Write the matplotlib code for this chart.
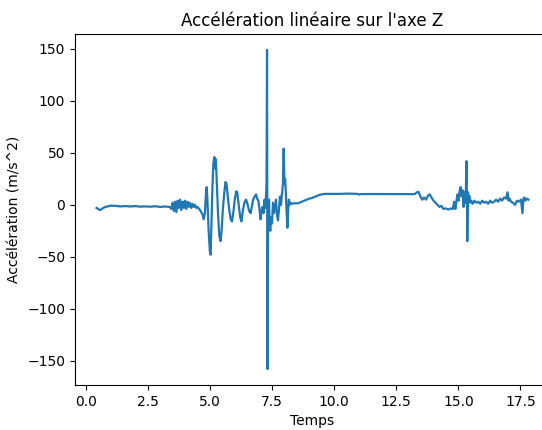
import matplotlib
matplotlib.use("Agg")
import matplotlib.pyplot as plt

# (time, acceleration) samples, by segment
calm = [(0.44,-3),(0.5,-4),(0.56,-5),(0.62,-4.5),(0.7,-3),(0.8,-2),(0.9,-1.5),(1.0,-0.8),(1.2,-1),
        (1.4,-1.5),(1.6,-1.2),(1.8,-1.6),(2.0,-1.2),(2.2,-1.8),(2.4,-1.5),(2.6,-1.8),(2.8,-1.4),
        (3.0,-2),(3.2,-1.6),(3.4,-2.2)]
noise1 = [(3.45,-4),(3.5,2),(3.55,-6),(3.6,3),(3.65,-7),(3.7,4),(3.75,-3),(3.8,5),(3.85,-5),(3.9,3),
          (3.95,-3),(4.0,4),(4.05,-4),(4.1,3),(4.15,-2),(4.2,2),(4.25,-3),(4.3,1),(4.35,-2),(4.4,0),
          (4.45,-3),(4.5,-2),(4.6,-5),(4.7,-9),(4.75,-14)]
oscill = [(4.8,-8),(4.84,10),(4.87,17),(4.9,5),(4.95,-25),(5.0,-45),(5.03,-48),(5.06,-20),(5.1,15),
          (5.14,40),(5.18,46),(5.21,35),(5.24,44),(5.28,20),(5.33,-10),(5.38,-30),(5.43,-35),(5.47,-25),
          (5.52,-5),(5.58,12),(5.63,22),(5.67,20),(5.72,8),(5.78,-5),(5.84,-14),(5.89,-16),(5.94,-8),
          (6.0,5),(6.06,13),(6.1,12),(6.16,0),(6.22,-12),(6.27,-16),(6.33,-5),(6.4,3),(6.46,5),(6.52,0),
          (6.58,-6),(6.64,-8),(6.68,-3),(6.74,5),(6.8,8),(6.86,10),(6.9,6),(6.95,4),(7.0,-5),(7.04,-14),
          (7.08,-6),(7.12,-2),(7.16,-8),(7.2,5),(7.24,-3)]
impact = [(7.28,20),(7.3,149),(7.32,-158),(7.34,-10),(7.36,-20),(7.38,5),(7.4,-15),(7.43,-25),(7.46,-12),
          (7.5,-18),(7.54,2),(7.58,-8),(7.62,-3),(7.66,5),(7.7,-10),(7.74,-15),(7.78,-5),(7.82,8),(7.86,0),
          (7.9,10),(7.94,20),(7.97,54),(8.0,20),(8.03,25),(8.06,10),(8.09,-8),(8.12,-22),(8.15,-5),
          (8.18,5),(8.21,0),(8.25,2)]
plateau = [(8.3,1),(8.4,1.5),(8.55,1.5),(8.7,3),(8.85,4.5),(9.0,6),(9.1,6.5),(9.25,8),(9.4,9.5),
           (9.6,10.5),(9.8,10.5),(10.2,10.5),(10.6,10.8),(10.95,10.5),(11.0,9.8),(11.05,10.3),(11.4,10.4),
           (12.2,10.3),(12.6,10.3),(13.0,10.3),(13.25,10.3)]
noise2 = [(13.32,12),(13.4,12.5),(13.47,8),(13.55,5),(13.62,7),(13.7,5),(13.78,9),(13.85,10),(13.92,7),
          (14.0,4),(14.08,2),(14.16,0),(14.24,-2),(14.32,-1),(14.4,-4),(14.5,-3.5),(14.6,-4.5),(14.7,-3.5),
          (14.78,-4),(14.83,3),(14.88,-4),(14.93,5),(14.97,10),(15.01,4),(15.05,13),(15.09,17),(15.13,8),
          (15.17,14),(15.21,-2),(15.25,12),(15.29,2)]
tail = [(15.33,42),(15.36,-35),(15.39,12),(15.42,3),(15.45,8),(15.48,2),(15.52,4),(15.58,1),(15.65,4),
        (15.72,2),(15.8,3),(15.88,1),(15.96,4),(16.04,2),(16.12,3),(16.2,1),(16.28,4),(16.36,2),(16.44,3),
        (16.52,5),(16.6,3),(16.68,6),(16.76,4),(16.84,7),(16.92,6),(16.98,12),(17.02,4),(17.06,6),
        (17.12,3),(17.2,2),(17.28,0),(17.36,4),(17.44,3),(17.52,5),(17.58,-8),(17.62,6),(17.66,7),
        (17.7,4),(17.76,6),(17.82,5)]

samples = calm + noise1 + oscill + impact + plateau + noise2 + tail
temps = [p[0] for p in samples]
accel = [p[1] for p in samples]

fig = plt.figure(figsize=(5.42, 4.30), dpi=100)
ax = fig.add_axes([75/542, 1 - 385/430, (550 - 75)/542, (385 - 34)/430])
ax.plot(temps, accel, color="#1f77b4", linewidth=1.6)
ax.set_title("Accélération linéaire sur l'axe Z")
ax.set_xlabel("Temps")
ax.set_ylabel("Accélération (m/s^2)")
fig.savefig("out.png", dpi=100)
